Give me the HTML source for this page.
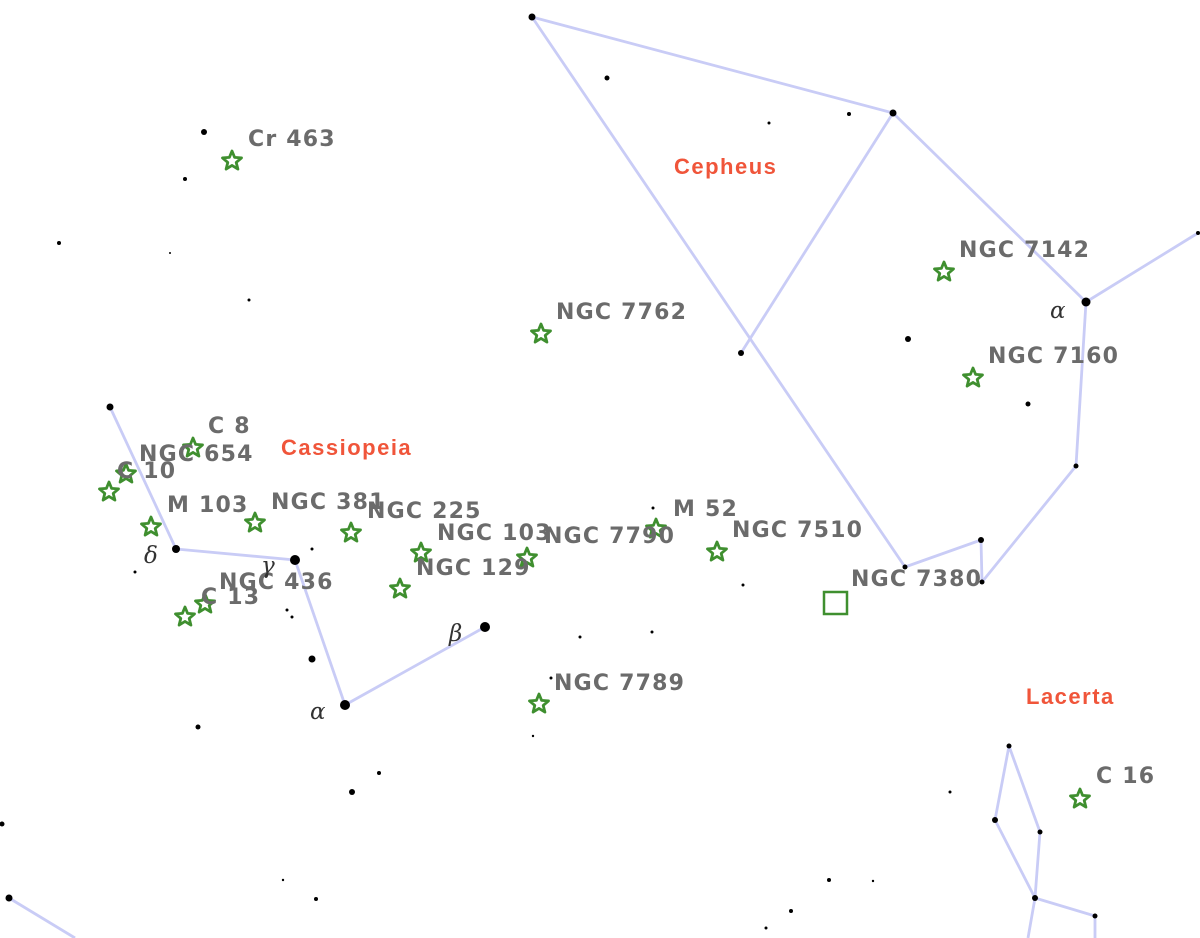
<!DOCTYPE html>
<html><head><meta charset="utf-8"><style>
html,body{margin:0;padding:0;background:#fff;}
svg{display:block;}
.l{font-family:"DejaVu Sans","Liberation Sans",sans-serif;font-weight:bold;font-size:22px;letter-spacing:1.2px;fill:#6b6b6b;}
.c{font-family:"Liberation Sans",sans-serif;font-weight:bold;font-size:22px;letter-spacing:1.5px;fill:#f0553a;}
.g{font-family:"DejaVu Serif","Liberation Serif",serif;font-style:italic;font-size:23px;fill:#333;}
</style></head><body>
<svg width="1200" height="938" viewBox="0 0 1200 938" xmlns="http://www.w3.org/2000/svg">
<defs>
<path id="s" d="M0,-10 L2.6,-3.6 L9.5,-3.1 L4.2,1.4 L5.9,8.1 L0,4.4 L-5.9,8.1 L-4.2,1.4 L-9.5,-3.1 L-2.6,-3.6Z" fill="none" stroke="#3f8f2f" stroke-width="2.8" stroke-linejoin="round"/>
</defs>
<g stroke="#c9ccf6" stroke-width="2.8" fill="none" stroke-linejoin="round">
<polyline points="893,113 532,17 905,567 981,540 982,582 1076,466 1086,302 1198,233"/>
<polyline points="893,113 741,353"/>
<polyline points="893,113 1086,302"/>
<polyline points="110,407 176,549 295,560 345,705 485,627"/>
<polyline points="1009,746 995,820 1035,898 1040,832 1009,746"/>
<polyline points="1035,898 1095,916 1095,938"/>
<polyline points="1035,898 1028,938"/>
<polyline points="9,898 75,938"/>
</g>
<g fill="#000">
<circle cx="532" cy="17" r="3.5"/><circle cx="893" cy="113" r="3.5"/><circle cx="741" cy="353" r="3"/>
<circle cx="1086" cy="302" r="4.5"/><circle cx="1076" cy="466" r="2.5"/><circle cx="982" cy="582" r="2.5"/>
<circle cx="981" cy="540" r="3"/><circle cx="905" cy="567" r="2.5"/><circle cx="1198" cy="233" r="2"/>
<circle cx="110" cy="407" r="3.5"/><circle cx="176" cy="549" r="4"/><circle cx="295" cy="560" r="5"/>
<circle cx="345" cy="705" r="5"/><circle cx="485" cy="627" r="5"/><circle cx="312" cy="659" r="3.5"/>
<circle cx="1009" cy="746" r="2.5"/><circle cx="995" cy="820" r="3"/><circle cx="1040" cy="832" r="2.5"/>
<circle cx="1035" cy="898" r="3"/><circle cx="1095" cy="916" r="2.5"/><circle cx="9" cy="898" r="3.5"/>
<circle cx="2" cy="824" r="2.5"/><circle cx="352" cy="792" r="3"/><circle cx="198" cy="727" r="2.5"/>
<circle cx="379" cy="773" r="2"/><circle cx="607" cy="78" r="2.5"/><circle cx="849" cy="114" r="2"/>
<circle cx="769" cy="123" r="1.5"/><circle cx="204" cy="132" r="3"/><circle cx="185" cy="179" r="2"/>
<circle cx="59" cy="243" r="2"/><circle cx="249" cy="300" r="1.5"/><circle cx="908" cy="339" r="3"/>
<circle cx="1028" cy="404" r="2.5"/><circle cx="135" cy="572" r="1.5"/><circle cx="287" cy="610" r="1.5"/>
<circle cx="292" cy="617" r="1.5"/><circle cx="312" cy="549" r="1.5"/><circle cx="580" cy="637" r="1.5"/>
<circle cx="652" cy="632" r="1.5"/><circle cx="743" cy="585" r="1.5"/><circle cx="551" cy="678" r="1.5"/>
<circle cx="533" cy="736" r="1.2"/><circle cx="653" cy="508" r="1.5"/><circle cx="950" cy="792" r="1.5"/>
<circle cx="829" cy="880" r="2"/><circle cx="873" cy="881" r="1.2"/><circle cx="791" cy="911" r="2"/>
<circle cx="766" cy="928" r="1.5"/><circle cx="316" cy="899" r="2"/><circle cx="283" cy="880" r="1.2"/>
<circle cx="170" cy="253" r="1"/>
</g>
<g>
<use href="#s" x="232" y="161"/><use href="#s" x="944" y="272"/><use href="#s" x="973" y="378"/>
<use href="#s" x="541" y="334"/><use href="#s" x="193" y="448"/><use href="#s" x="126" y="474"/>
<use href="#s" x="109" y="492"/><use href="#s" x="151" y="527"/><use href="#s" x="255" y="523"/>
<use href="#s" x="351" y="533"/><use href="#s" x="421" y="553"/><use href="#s" x="400" y="589"/>
<use href="#s" x="527" y="558"/><use href="#s" x="656" y="529"/><use href="#s" x="717" y="552"/>
<use href="#s" x="205" y="604"/><use href="#s" x="185" y="617"/><use href="#s" x="539" y="704"/>
<use href="#s" x="1080" y="799"/>
<rect x="824" y="592" width="23" height="22" fill="none" stroke="#3f8f2f" stroke-width="2.5"/>
</g>
<g class="l">
<text x="248" y="146">Cr 463</text>
<text x="959" y="257">NGC 7142</text>
<text x="988" y="363">NGC 7160</text>
<text x="556" y="319">NGC 7762</text>
<text x="208" y="433">C 8</text>
<text x="139" y="461">NGC 654</text>
<text x="117" y="478">C 10</text>
<text x="167" y="512">M 103</text>
<text x="271" y="509">NGC 381</text>
<text x="367" y="518">NGC 225</text>
<text x="437" y="540">NGC 103</text>
<text x="544" y="543">NGC 7790</text>
<text x="673" y="516">M 52</text>
<text x="732" y="537">NGC 7510</text>
<text x="416" y="575">NGC 129</text>
<text x="219" y="589">NGC 436</text>
<text x="201" y="604">C 13</text>
<text x="851" y="586">NGC 7380</text>
<text x="554" y="690">NGC 7789</text>
<text x="1096" y="783">C 16</text>
</g>
<g class="c">
<text x="674" y="174">Cepheus</text>
<text x="281" y="455">Cassiopeia</text>
<text x="1026" y="704">Lacerta</text>
</g>
<g class="g">
<text x="1050" y="318">α</text>
<text x="144" y="563">δ</text>
<text x="261" y="573">γ</text>
<text x="449" y="641">β</text>
<text x="310" y="719">α</text>
</g>
</svg>
</body></html>
